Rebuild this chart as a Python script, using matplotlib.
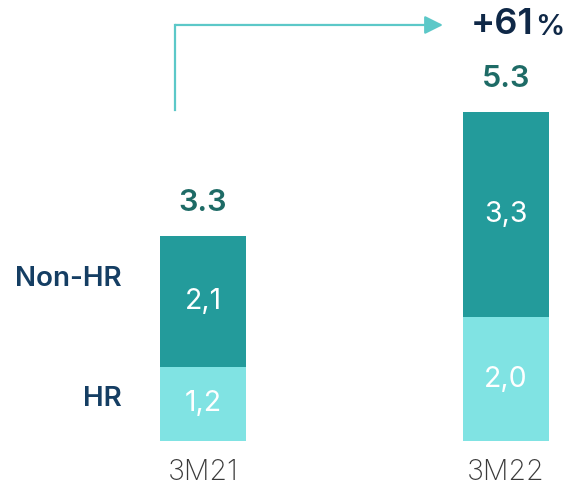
import matplotlib.pyplot as plt

# data
periods = ['3M21', '3M22']
hr = [1.2, 2.0]
non_hr = [2.1, 3.3]
totals = ['3.3', '5.3']
hr_labels = ['1,2', '2,0']
non_hr_labels = ['2,1', '3,3']
growth = '+61'

plt.rcParams['font.family'] = ['Inter', 'DejaVu Sans']

light = '#80E3E3'
dark = '#239B9B'
navy = '#153E63'

fig = plt.figure(figsize=(5.65, 4.95), dpi=100)
ax = fig.add_axes([0, 54 / 495, 1, 441 / 495])

x = [0, 1]
w = 0.284
ax.bar(x, hr, width=w, color=light)
ax.bar(x, non_hr, width=w, bottom=hr, color=dark)

ax.set_xlim(-203 / 303, 362 / 303)
ax.set_ylim(0, 441 / 62)

# segment labels
for i in x:
    ax.text(i, hr[i] / 2, hr_labels[i], ha='center', va='center',
            color='white', fontsize=20.5)
    ax.text(i, hr[i] + non_hr[i] / 2, non_hr_labels[i], ha='center',
            va='center', color='white', fontsize=20.5)
    ax.annotate(totals[i], (i, hr[i] + non_hr[i]), xytext=(0, 14),
                textcoords='offset points', ha='center', va='bottom',
                color='#1E6B66', fontsize=22, fontweight='semibold')

# series labels on the left
ax.text(-0.267, 2.62, 'Non-HR', ha='right', va='center', color=navy,
        fontsize=20, fontweight='semibold')
ax.text(-0.267, 0.68, 'HR', ha='right', va='center', color=navy,
        fontsize=20, fontweight='semibold')

# growth arrow
arrow_col = '#5CC8C8'
ax.plot([-0.092, -0.092], [5.34, 6.71], color=arrow_col, lw=1.6,
        clip_on=False, solid_capstyle='projecting')
ax.annotate('', xy=(0.792, 6.71), xytext=(-0.092, 6.71),
            arrowprops=dict(arrowstyle='-|>,head_length=1.1,head_width=0.55',
                            color=arrow_col, lw=1.6, shrinkA=0, shrinkB=0),
            annotation_clip=False)
ax.text(1.09, 6.71, growth, ha='right', va='center', color='#0F2847',
        fontsize=26, fontweight='semibold')
ax.text(1.095, 6.67, '%', ha='left', va='center', color='#0F2847',
        fontsize=21, fontweight='semibold')

ax.set_xticks(x, periods)
ax.tick_params(axis='x', length=0, pad=13, labelsize=20.5, labelcolor='#3a3a3a')
for lbl in ax.get_xticklabels():
    lbl.set_fontweight('light')
ax.set_yticks([])
for s in ax.spines.values():
    s.set_visible(False)

fig.savefig('out.png', dpi=100)
